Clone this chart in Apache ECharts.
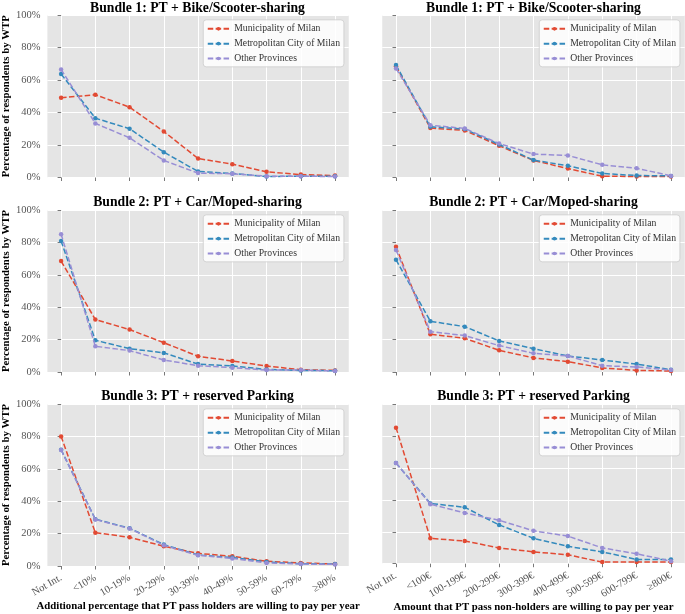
<!DOCTYPE html>
<html>
<head>
<meta charset="utf-8">
<script src="https://cdn.jsdelivr.net/npm/echarts@6.0.0/dist/echarts.min.js"></script>
<style>
  html, body { margin: 0; padding: 0; background: #ffffff; }
  #chart { width: 685px; height: 614px; }
</style>
</head>
<body>
<div id="chart"></div>
<script>
// ---------- DATA ----------
const categoriesHolders = ['Not Int.', '<10%', '10-19%', '20-29%', '30-39%', '40-49%', '50-59%', '60-79%', '≥80%'];
const categoriesNonHolders = ['Not Int.', '<100€', '100-199€', '200-299€', '300-399€', '400-499€', '500-599€', '600-799€', '≥800€'];
const seriesNames = ['Municipality of Milan', 'Metropolitan City of Milan', 'Other Provinces'];
const yTickValues = [0, 20, 40, 60, 80, 100];
const panelTitles = [
  'Bundle 1: PT + Bike/Scooter-sharing',
  'Bundle 2: PT + Car/Moped-sharing',
  'Bundle 3: PT + reserved Parking'
];
const xAxisTitles = [
  'Additional percentage that PT pass holders are willing to pay per year',
  'Amount that PT pass non-holders are willing to pay per year'
];
const yAxisTitle = 'Percentage of respondents by WTP';

// Bundle 1 - PT pass holders (%)
const b1HoldersMunicipality = [49.1, 50.9, 43.3, 28.3, 11.7, 8.2, 3.5, 1.8, 1.2];
const b1HoldersMetropolitan = [63.7, 36.5, 30.0, 15.6, 3.7, 2.5, 0.6, 0.8, 0.8];
const b1HoldersOther        = [66.5, 33.3, 24.4, 10.5, 2.7, 2.3, 0.8, 0.8, 0.6];
// Bundle 1 - non-holders
const b1NonHoldersMunicipality = [68.5, 30.4, 29.0, 19.5, 10.5, 5.5, 0.8, 0.6, 0.6];
const b1NonHoldersMetropolitan = [69.2, 31.2, 29.8, 20.3, 10.7, 7.2, 2.5, 1.2, 1.0];
const b1NonHoldersOther        = [67.1, 32.2, 30.2, 20.9, 14.4, 13.6, 7.8, 5.7, 1.0];
// Bundle 2 - holders
const b2HoldersMunicipality = [68.5, 32.4, 26.2, 18.1, 9.7, 6.8, 3.7, 1.4, 1.0];
const b2HoldersMetropolitan = [80.8, 19.6, 14.4, 11.8, 4.9, 3.7, 1.6, 1.0, 0.8];
const b2HoldersOther        = [85.0, 15.9, 13.2, 7.4, 3.9, 2.7, 1.2, 1.2, 0.6];
// Bundle 2 - non-holders
const b2NonHoldersMunicipality = [77.3, 23.3, 20.8, 13.4, 8.7, 6.4, 2.5, 1.0, 0.6];
const b2NonHoldersMetropolitan = [69.3, 31.3, 28.0, 19.2, 14.4, 9.9, 7.4, 4.9, 1.4];
const b2NonHoldersOther        = [75.3, 24.9, 22.5, 16.3, 11.5, 9.9, 3.9, 3.1, 1.2];
// Bundle 3 - holders
const b3HoldersMunicipality = [80.0, 20.6, 17.7, 12.2, 7.8, 6.0, 2.9, 1.9, 1.2];
const b3HoldersMetropolitan = [71.8, 28.9, 23.3, 13.2, 6.8, 5.2, 2.5, 1.4, 1.2];
const b3HoldersOther        = [71.6, 28.7, 23.1, 12.8, 6.6, 4.7, 1.9, 1.2, 1.0];
// Bundle 3 - non-holders
const b3NonHoldersMunicipality = [85.2, 15.9, 14.2, 9.9, 7.4, 5.6, 1.0, 1.0, 1.0];
const b3NonHoldersMetropolitan = [63.1, 37.7, 35.3, 24.3, 15.9, 10.9, 7.4, 2.7, 2.7];
const b3NonHoldersOther        = [63.1, 37.3, 31.8, 27.2, 20.6, 17.3, 9.9, 6.2, 1.6];

const panelData = [
  [b1HoldersMunicipality, b1HoldersMetropolitan, b1HoldersOther],
  [b1NonHoldersMunicipality, b1NonHoldersMetropolitan, b1NonHoldersOther],
  [b2HoldersMunicipality, b2HoldersMetropolitan, b2HoldersOther],
  [b2NonHoldersMunicipality, b2NonHoldersMetropolitan, b2NonHoldersOther],
  [b3HoldersMunicipality, b3HoldersMetropolitan, b3HoldersOther],
  [b3NonHoldersMunicipality, b3NonHoldersMetropolitan, b3NonHoldersOther]
];

// ---------- STYLE / LAYOUT ----------
const FONT = "'Liberation Serif', 'Times New Roman', serif";
const colors = ['#E24A33', '#348ABD', '#988ED5'];
const colLeft = [46.25, 382.25];
const plotW = 302.5;
const rowTop = [15, 210, 404];
const plotH = [162.5, 162, 162];
const titleTop = [1.5, 195.5, 389.8];
const catIdx = categoriesHolders.map((_, i) => i);

const grids = [], xAxes = [], yAxes = [], series = [], titles = [], legends = [];
for (let r = 0; r < 3; r++) {
  for (let c = 0; c < 2; c++) {
    const p = r * 2 + c;
    const cats = c === 0 ? categoriesHolders : categoriesNonHolders;
    grids.push({
      left: colLeft[c], top: rowTop[r], width: plotW, height: plotH[r],
      show: true, backgroundColor: '#E5E5E5', borderWidth: 0, containLabel: false
    });
    xAxes.push({
      type: 'value', gridIndex: p, min: -0.4, max: 8.4, splitNumber: 9,
      axisLine: { show: false },
      axisTick: { show: true, customValues: catIdx, length: 3.5, lineStyle: { color: '#555555', width: 0.8 } },
      axisLabel: {
        show: r === 2, customValues: catIdx,
        formatter: v => cats[Math.round(v)] ?? '',
        rotate: 30, fontFamily: FONT, fontSize: 10.5, color: '#555555', margin: 11
      },
      splitLine: { show: true, lineStyle: { color: '#FFFFFF', width: 1 } },
      name: r === 2 ? xAxisTitles[c] : '',
      nameLocation: 'middle', nameGap: 32,
      nameTextStyle: { fontFamily: FONT, fontSize: 10.8, fontWeight: 'bold', color: '#000000', lineHeight: 10.8 }
    });
    yAxes.push({
      type: 'value', gridIndex: p, min: yTickValues[0], max: yTickValues[yTickValues.length - 1], interval: 20,
      axisLine: { show: false },
      axisTick: { show: true, length: 3.5, lineStyle: { color: '#555555', width: 0.8 } },
      axisLabel: { show: c === 0, formatter: '{value}%', fontFamily: FONT, fontSize: 10.5, color: '#555555', margin: 7 },
      splitLine: { show: true, lineStyle: { color: '#FFFFFF', width: 1 } },
      name: c === 0 ? yAxisTitle : '',
      nameLocation: 'middle', nameRotate: 90, nameGap: 33.3,
      nameTextStyle: { fontFamily: FONT, fontSize: 10.8, fontWeight: 'bold', color: '#000000', lineHeight: 10.8 }
    });
    titles.push({
      text: panelTitles[r],
      left: colLeft[c] + plotW / 2, top: titleTop[r], textAlign: 'center', padding: 0,
      textStyle: { fontFamily: FONT, fontSize: 13.7, fontWeight: 'bold', color: '#000000', lineHeight: 13.7 }
    });
    legends.push({
      orient: 'vertical', selectedMode: false,
      right: 685 - (colLeft[c] + plotW - 4.85), top: rowTop[r] + 4.85,
      data: seriesNames,
      itemWidth: 21.5, itemHeight: 4.5, itemGap: 4.8,
      padding: [4, 3.9, 3.4, 3.5],
      backgroundColor: 'rgba(255,255,255,0.85)', borderColor: '#CCCCCC', borderWidth: 0.8, borderRadius: 3,
      textStyle: { fontFamily: FONT, fontSize: 9.7, color: '#333333', lineHeight: 10 }
    });
    panelData[p].forEach((arr, s) => {
      series.push({
        type: 'line', name: seriesNames[s], xAxisIndex: p, yAxisIndex: p,
        data: arr.map((v, i) => [i, v]),
        symbol: 'circle', symbolSize: 4.5, showSymbol: true,
        lineStyle: { width: 1.5, type: [5.5, 2.4], color: colors[s] },
        itemStyle: { color: colors[s] },
        emphasis: { disabled: true }, z: 2 + s
      });
    });
  }
}

const chart = echarts.init(document.getElementById('chart'), null, { renderer: 'canvas' });
chart.setOption({
  animation: false,
  backgroundColor: '#FFFFFF',
  color: colors,
  textStyle: { fontFamily: FONT },
  title: titles,
  legend: legends,
  grid: grids,
  xAxis: xAxes,
  yAxis: yAxes,
  tooltip: { show: false },
  series: series
});
</script>
</body>
</html>
